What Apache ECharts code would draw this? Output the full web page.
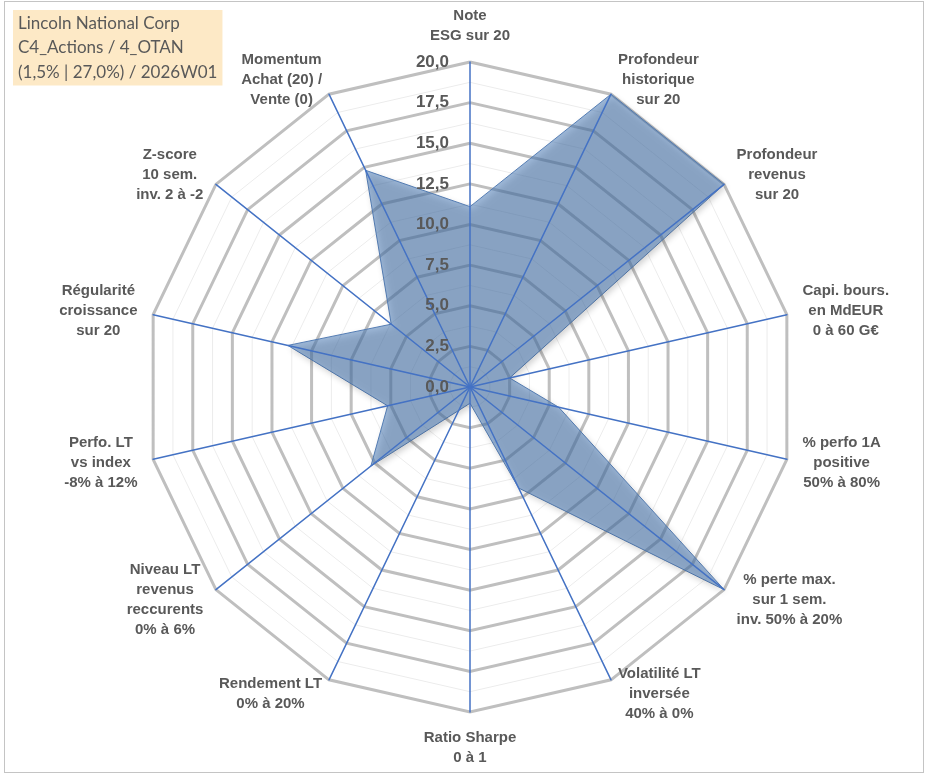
<!DOCTYPE html>
<html>
<head>
<meta charset="utf-8">
<title>Radar</title>
<script src="https://cdn.jsdelivr.net/npm/echarts@6/dist/echarts.min.js"></script>
<style>
  html, body { margin: 0; padding: 0; background: #fff; }
  #main { position: absolute; left: 0; top: 0; width: 933px; height: 776px; }
  #frame { position: absolute; left: 4px; top: 1px; width: 918px; height: 770px;
           border: 1px solid #c4c4c4; pointer-events: none; }
</style>
</head>
<body>
<div id="main"></div>
<div id="frame"></div>
<script>
// titre (cartouche en haut a gauche)
var titleLines = ["Lincoln National Corp", "C4_Actions / 4_OTAN", "(1,5% | 27,0%) / 2026W01"];

// axes, dans l'ordre horaire en partant du haut
var axisNames = [
  "Note\nESG sur 20",
  "Profondeur\nhistorique\nsur 20",
  "Profondeur\nrevenus\nsur 20",
  "Capi. bours.\nen MdEUR\n0 à 60 G€",
  "% perfo 1A\npositive\n50% à 80%",
  "% perte max.\nsur 1 sem.\ninv. 50% à 20%",
  "Volatilité LT\ninversée\n40% à 0%",
  "Ratio Sharpe\n0 à 1",
  "Rendement LT\n0% à 20%",
  "Niveau LT\nrevenus\nreccurents\n0% à 6%",
  "Perfo. LT\nvs index\n-8% à 12%",
  "Régularité\ncroissance\nsur 20",
  "Z-score\n10 sem.\ninv. 2 à -2",
  "Momentum\nAchat (20) /\nVente (0)"
];

// notes (meme ordre)
var scores = [11.1, 20, 20, 2.5, 5.6, 20, 6.9, 1.0, 1.6, 7.8, 5.2, 11.5, 6.2, 14.8];

// graduation
var scaleMin = 0;
var scaleMax = 20;
var scaleStep = 2.5;

(function () {
  var myChart = echarts.init(document.getElementById("main"));

  // echarts tourne dans le sens anti-horaire : on inverse (le premier reste en haut)
  var order = [0];
  for (var i = axisNames.length - 1; i > 0; i--) order.push(i);

  var boldFont = "Arial, 'Liberation Sans', sans-serif";

  function makeIndicators(withLabel) {
    return order.map(function (idx, k) {
      var ind = { name: axisNames[idx], min: scaleMin, max: scaleMax };
      if (withLabel && k === 0) {
        ind.axisLabel = {
          show: true,
          showMinLabel: true,
          showMaxLabel: true,
          margin: 21,
          color: "#595959",
          fontFamily: boldFont,
          fontWeight: "bold",
          fontSize: 17,
          formatter: function (v) {
            return v.toFixed(1).replace(".", ",");
          }
        };
      }
      return ind;
    });
  }

  var nSplit = Math.round((scaleMax - scaleMin) / scaleStep);
  var center = [470, 387];
  var radius = 325;
  var nameFont = {
    color: "#595959",
    fontFamily: boldFont,
    fontWeight: "bold",
    fontSize: 15,
    lineHeight: 20
  };

  option = {
    title: {
      text: titleLines.join("\n"),
      left: 13,
      top: 10,
      padding: [1, 5, 1, 5],
      backgroundColor: "#fde9c6",
      textStyle: {
        color: "#595959",
        fontFamily: "Lato",
        fontWeight: "normal",
        fontSize: 17,
        lineHeight: 24.5
      }
    },
    radar: [
      // fines lignes intermediaires
      {
        center: center,
        radius: radius,
        shape: "polygon",
        splitNumber: nSplit * 2,
        indicator: makeIndicators(false),
        axisName: { show: false },
        axisLine: { show: false },
        axisLabel: { show: false },
        splitArea: { show: false },
        splitLine: { lineStyle: { color: "#ececec", width: 1 } },
        z: 1
      },
      // grille principale + noms des axes
      {
        center: center,
        radius: radius,
        shape: "polygon",
        splitNumber: nSplit,
        indicator: makeIndicators(false),
        nameGap: 16,
        axisName: {
          color: nameFont.color,
          fontFamily: nameFont.fontFamily,
          fontWeight: nameFont.fontWeight,
          fontSize: nameFont.fontSize,
          lineHeight: nameFont.lineHeight,
          formatter: function (value) {
            return value.split("\n").map(function (l) {
              return "{c|" + l + "}";
            }).join("\n");
          },
          rich: {
            c: {
              align: "center",
              color: nameFont.color,
              fontFamily: nameFont.fontFamily,
              fontWeight: nameFont.fontWeight,
              fontSize: nameFont.fontSize,
              lineHeight: nameFont.lineHeight
            }
          }
        },
        axisLine: { show: false },
        axisLabel: { show: false },
        splitArea: { show: false },
        splitLine: { lineStyle: { color: "#bfbfbf", width: 3 } },
        z: 1
      },
      // axes bleus + graduations, au-dessus de la surface
      {
        center: center,
        radius: radius,
        shape: "polygon",
        splitNumber: nSplit,
        indicator: makeIndicators(true),
        axisName: { show: false },
        axisLine: { show: true, lineStyle: { color: "#4472c4", width: 1.5 } },
        axisLabel: { show: false },
        splitArea: { show: false },
        splitLine: { show: false },
        z: 5
      }
    ],
    series: [
      {
        name: "Notes",
        type: "radar",
        radarIndex: 1,
        symbol: "none",
        lineStyle: { color: "#5b82b8", width: 1 },
        areaStyle: {
          color: "rgba(74, 122, 182, 0.76)",
          shadowColor: "rgba(0, 0, 0, 0.35)",
          shadowBlur: 6,
          shadowOffsetX: 2,
          shadowOffsetY: 3
        },
        data: [
          { value: order.map(function (idx) { return scores[idx]; }), name: "Notes" }
        ],
        z: 2
      }
    ]
  };

  myChart.setOption(option);
  window.addEventListener("resize", function () {
    myChart.resize();
  });
})();
</script>
</body>
</html>
